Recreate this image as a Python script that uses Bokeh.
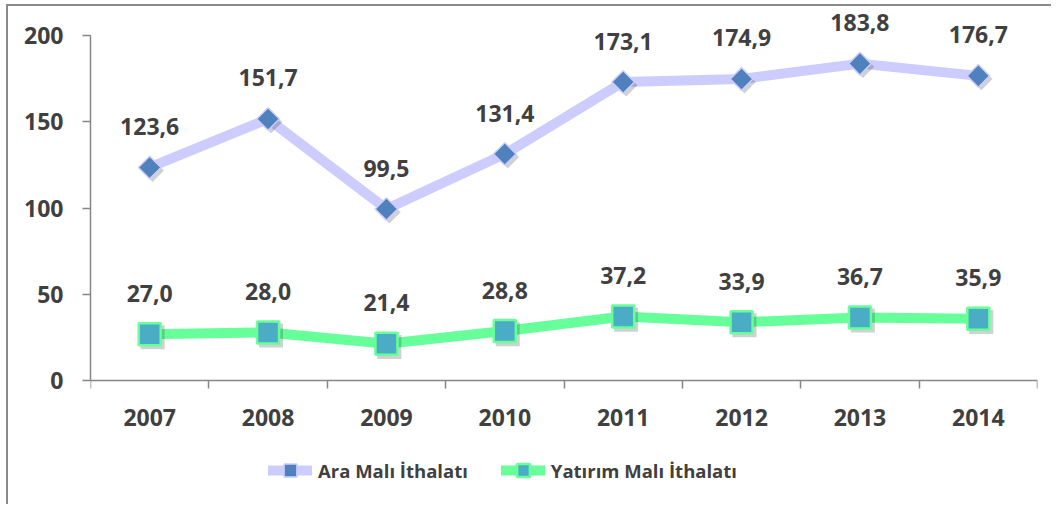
from bokeh.plotting import figure
from bokeh.models import Range1d, FixedTicker, Legend, LegendItem, ColumnDataSource
from bokeh.transform import dodge
from bokeh.embed import file_html
from bokeh.resources import INLINE
from bokeh.core.properties import value

years = ["2007", "2008", "2009", "2010", "2011", "2012", "2013", "2014"]
ara_mali = [123.6, 151.7, 99.5, 131.4, 173.1, 174.9, 183.8, 176.7]
yatirim_mali = [27.0, 28.0, 21.4, 28.8, 37.2, 33.9, 36.7, 35.9]
y_ticks = [0, 50, 100, 150, 200]
series_names = ["Ara Malı İthalatı", "Yatırım Malı İthalatı"]

FONT = "Open Sans"
TXT = "#404040"
AXC = "#868686"

n = len(years)
xs = [i + 0.5 for i in range(n)]
fmt = lambda v: f"{v:.1f}".replace(".", ",")
src = ColumnDataSource(dict(
    x=xs, ara=ara_mali, yat=yatirim_mali,
    ara_lbl=[fmt(v) for v in ara_mali],
    yat_lbl=[fmt(v) for v in yatirim_mali],
))

p = figure(width=1045, height=500, x_range=Range1d(0, n), y_range=Range1d(-70, 214),
           output_backend="svg", toolbar_location=None,
           min_border_left=82, min_border_right=16, min_border_top=5, min_border_bottom=5,
           styles={"border-left": "2px solid #8a8a8a", "border-top": "2px solid #8a8a8a",
                   "margin-left": "6px", "margin-top": "4px"})
p.outline_line_color = None
p.grid.visible = False
p.background_fill_color = "white"

# axes
p.yaxis.ticker = FixedTicker(ticks=y_ticks)
p.yaxis.bounds = (y_ticks[0], y_ticks[-1])
p.yaxis.axis_line_color = AXC
p.yaxis.axis_line_width = 1.5
p.yaxis.major_tick_line_color = AXC
p.yaxis.major_tick_line_width = 1.5
p.yaxis.major_tick_out = 8
p.yaxis.major_tick_in = 0
p.yaxis.minor_tick_line_color = None
p.yaxis.major_label_standoff = 19
p.yaxis.major_label_text_font = FONT
p.yaxis.major_label_text_font_style = "bold"
p.yaxis.major_label_text_font_size = "23px"
p.yaxis.major_label_text_color = TXT

p.xaxis.fixed_location = 0
p.xaxis.ticker = FixedTicker(ticks=xs, minor_ticks=list(range(n + 1)))
p.xaxis.major_label_overrides = {x: y for x, y in zip(xs, years)}
p.xaxis.axis_line_color = AXC
p.xaxis.axis_line_width = 1.5
p.xaxis.major_tick_line_color = None
p.xaxis.major_tick_out = 0
p.xaxis.major_tick_in = 0
p.xaxis.minor_tick_line_color = AXC
p.xaxis.minor_tick_line_width = 1.5
p.xaxis.minor_tick_out = 8
p.xaxis.minor_tick_in = 0
p.xaxis.major_label_standoff = 20
p.xaxis.major_label_text_font = FONT
p.xaxis.major_label_text_font_style = "bold"
p.xaxis.major_label_text_font_size = "23px"
p.xaxis.major_label_text_color = TXT

# series
l1 = p.line("x", "ara", source=src, line_color="#CCCCFF", line_width=10, line_join="round", line_cap="round")
l2 = p.line("x", "yat", source=src, line_color="#66FF99", line_width=10, line_join="round", line_cap="round")

# marker shadows
p.scatter(dodge("x", 0.025, range=p.x_range), dodge("ara", -1.8, range=p.y_range), source=src,
          marker="square", size=16, angle=0.785398, fill_color="black", fill_alpha=0.18, line_color=None)
p.scatter(dodge("x", 0.025, range=p.x_range), dodge("yat", -1.8, range=p.y_range), source=src,
          marker="square", size=24, fill_color="black", fill_alpha=0.18, line_color=None)

s1 = p.scatter("x", "ara", source=src, marker="square", size=16, angle=0.785398,
               fill_color="#4F81BD", line_color="#CCCCFF", line_width=1.5)
s2 = p.scatter("x", "yat", source=src, marker="square", size=22,
               fill_color="#4BACC6", line_color="#66FF99", line_width=2.5)

for col, lbl in (("ara", "ara_lbl"), ("yat", "yat_lbl")):
    p.text("x", col, text=lbl, source=src, text_font=value(FONT), text_font_style="bold",
           text_font_size="23px", text_color=TXT, text_align="center", text_baseline="alphabetic",
           y_offset=-41)

legend = Legend(items=[LegendItem(label=series_names[0], renderers=[l1, s1]),
                       LegendItem(label=series_names[1], renderers=[l2, s2])],
                orientation="horizontal", location=(178, 15), padding=0, margin=0, spacing=33,
                glyph_width=44, glyph_height=32, label_standoff=6,
                border_line_color=None, background_fill_alpha=0,
                label_text_font=FONT, label_text_font_style="bold",
                label_text_font_size="18.5px", label_text_color=TXT)
p.add_layout(legend)

open("out.html", "w").write(file_html(p, INLINE))
